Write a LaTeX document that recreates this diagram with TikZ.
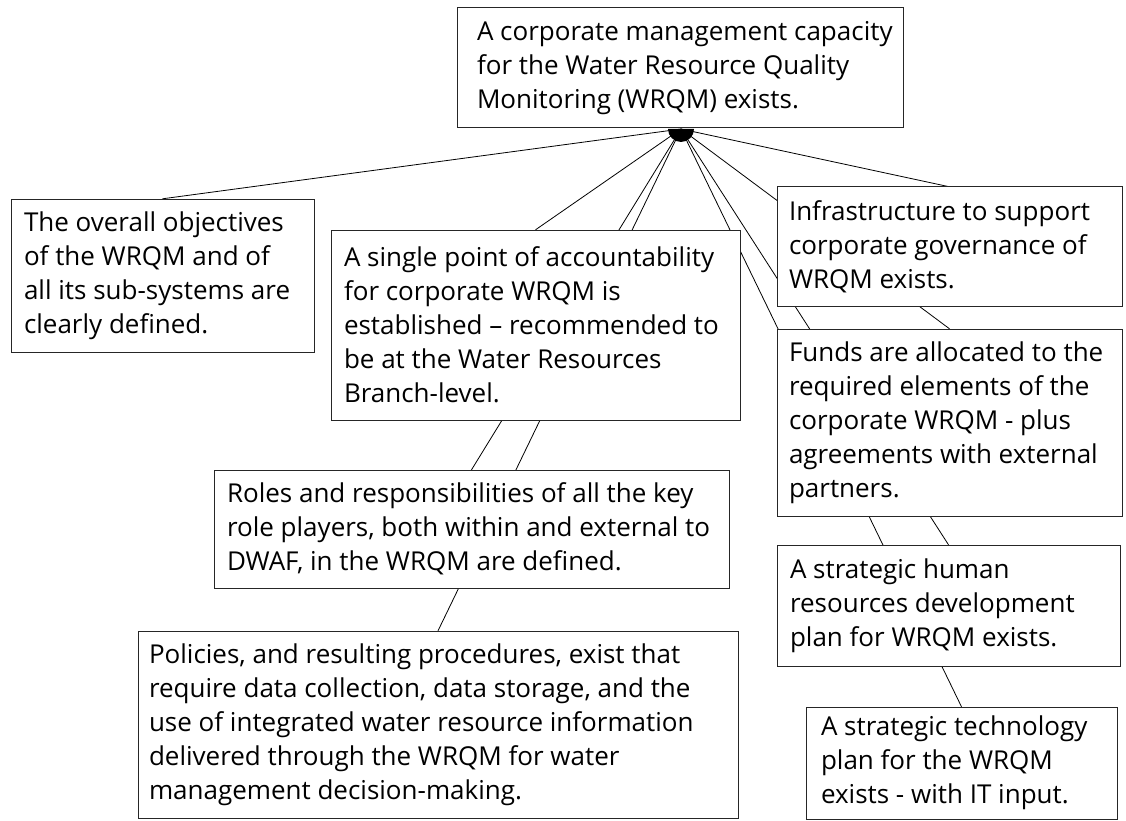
\documentclass[tikz,border=0pt]{standalone}
\usepackage{fontspec}
\setmainfont{Open Sans}
\usetikzlibrary{backgrounds}
\tikzset{
  boxnode/.style={draw=black!85, line width=1pt, fill=white, rectangle, inner sep=0pt},
  txt/.style={anchor=west, align=left, inner sep=0pt, font=\fontsize{26}{34}\selectfont},
  link/.style={draw=black, line width=0.8pt},
}
\newcommand{\mkbox}[5]{% name, x1, y1, x2, y2
  \path[boxnode] (#2,#3) rectangle (#4,#5);
  \node[inner sep=0pt, minimum width={#4-#2}, minimum height={#5-#3}] (#1) at ({(#2+#4)/2},{(#3+#5)/2}) {};
}
\begin{document}
\begin{tikzpicture}[x=1pt,y=-1pt]
\useasboundingbox (0,0) rectangle (1126,821);
% boxes
\mkbox{top}{457}{8}{903}{128}
\mkbox{obj}{11}{199}{314}{352}
\mkbox{acc}{331}{230}{740}{420}
\mkbox{infra}{777}{187}{1122}{306}
\mkbox{funds}{777}{329}{1122}{516}
\mkbox{roles}{214}{470}{729}{588}
\mkbox{hr}{777}{545}{1120}{666}
\mkbox{pol}{138}{631}{738}{818}
\mkbox{tech}{806}{707}{1117}{819}
% texts
\node[txt] (ttop) at ([xshift=20pt]top.west) {A corporate management capacity\\for the Water Resource Quality\\Monitoring (WRQM) exists.};
\node[txt] (tobj) at ([xshift=13pt]obj.west) {The overall objectives\\of the WRQM and of\\all its sub-systems are\\clearly defined.};
\node[txt] (tacc) at ([xshift=13pt]acc.west) {A single point of accountability\\for corporate WRQM is\\established – recommended to\\be at the Water Resources\\Branch-level.};
\node[txt] (tinfra) at ([xshift=12pt]infra.west) {Infrastructure to support\\corporate governance of\\WRQM exists.};
\node[txt] (tfunds) at ([xshift=12pt]funds.west) {Funds are allocated to the\\required elements of the\\corporate WRQM - plus\\agreements with external\\partners.};
\node[txt] (troles) at ([xshift=13pt]roles.west) {Roles and responsibilities of all the key\\role players, both within and external to\\DWAF, in the WRQM are defined.};
\node[txt] (thr) at ([xshift=13pt]hr.west) {A strategic human\\resources development\\plan for WRQM exists.};
\node[txt] (tpol) at ([xshift=11pt]pol.west) {Policies, and resulting procedures, exist that\\require data collection, data storage, and the\\use of integrated water resource information\\delivered through the WRQM for water\\management decision-making.};
\node[txt] (ttech) at ([xshift=15pt]tech.west) {A strategic technology\\plan for the WRQM\\exists - with IT input.};
% hub
\coordinate (hub) at (681,129);
\begin{scope}[on background layer]
  \foreach \t in {obj,acc,roles,pol,infra,funds,hr,tech}
    \draw[link] (hub) -- (\t.north);
\end{scope}
\fill[black] (668,129) arc[start angle=180, end angle=360, radius=13pt] -- cycle;
\end{tikzpicture}
\end{document}
